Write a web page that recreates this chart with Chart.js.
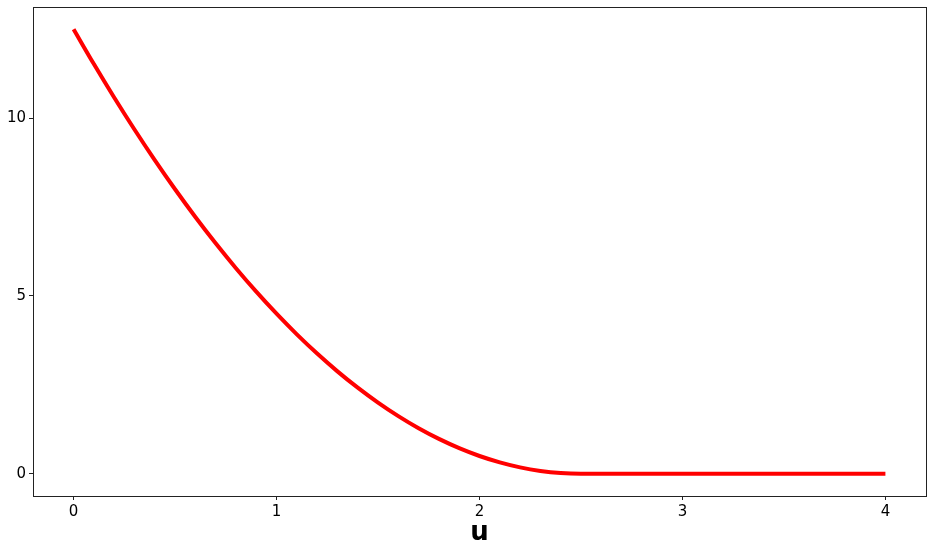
<!DOCTYPE html>
<html>
<head>
<meta charset="utf-8">
<script src="https://cdn.jsdelivr.net/npm/chart.js@4.4.0/dist/chart.umd.min.js"></script>
<style>
  html, body { margin: 0; padding: 0; background: #fff; }
  #wrap { width: 933px; height: 553px; }
</style>
</head>
<body>
<div id="wrap"><canvas id="curveChart" width="933" height="553"></canvas></div>
<script>
// values
const uValues = [0, 0.1, 0.2, 0.3, 0.4, 0.5, 0.6, 0.7, 0.8, 0.9, 1.0, 1.1, 1.2, 1.3, 1.4, 1.5,
                 1.6, 1.7, 1.8, 1.9, 2.0, 2.1, 2.2, 2.3, 2.4, 2.5, 3.0, 3.5, 4.0];
const yValues = [12.5, 11.52, 10.58, 9.68, 8.82, 8.0, 7.22, 6.48, 5.78, 5.12, 4.5, 3.92, 3.38, 2.88, 2.42, 2.0,
                 1.62, 1.28, 0.98, 0.72, 0.5, 0.32, 0.18, 0.08, 0.02, 0, 0, 0, 0];
const xTicks = [0, 1, 2, 3, 4];
const yTicks = [0, 5, 10];
const xLabel = 'u';

const font = "'DejaVu Sans', sans-serif";

// frame round the plot area
const boxPlugin = {
    id: 'box',
    afterDraw(chart){
        const a = chart.chartArea;
        const c = chart.ctx;
        c.save();
        c.strokeStyle = '#222';
        c.lineWidth = 1;
        c.strokeRect(Math.round(a.left) + 0.5, Math.round(a.top) + 0.5,
                     Math.round(a.right - a.left), Math.round(a.bottom - a.top));
        c.restore();
    }
};

new Chart(document.getElementById('curveChart'), {
    type: 'line',
    data: {
        datasets: [{
            data: uValues.map((u, i) => ({ x: u, y: yValues[i] })),
            borderColor: '#ff0000',
            borderWidth: 4,
            pointRadius: 0,
            cubicInterpolationMode: 'monotone',
            fill: false
        }]
    },
    options: {
        responsive: false,
        animation: false,
        layout: { padding: { left: 0, right: 7, top: 7, bottom: 0 } },
        plugins: { legend: { display: false }, tooltip: { enabled: false } },
        scales: {
            x: {
                type: 'linear',
                min: -0.2,
                max: 4.2,
                afterBuildTicks: s => { s.ticks = xTicks.map(v => ({ value: v })); },
                afterFit: s => { s.height = 57; s.paddingLeft = 0; s.paddingRight = 0; },
                grid: { drawOnChartArea: false, drawTicks: true, tickLength: 4, color: '#222' },
                border: { display: false },
                ticks: { color: '#000', font: { family: font, size: 15 }, padding: 3, maxRotation: 0 },
                title: { display: true, text: xLabel, color: '#000',
                         font: { family: font, size: 26, weight: 'bold' }, padding: { top: 0 } }
            },
            y: {
                min: -0.625,
                max: 13.125,
                afterBuildTicks: s => { s.ticks = yTicks.map(v => ({ value: v })); },
                afterFit: s => { s.width = 33; s.paddingTop = 0; s.paddingBottom = 0; },
                grid: { drawOnChartArea: false, drawTicks: true, tickLength: 4, color: '#222' },
                border: { display: false },
                ticks: { color: '#000', font: { family: font, size: 15 }, padding: 3 }
            }
        }
    },
    plugins: [boxPlugin]
});
</script>
</body>
</html>
